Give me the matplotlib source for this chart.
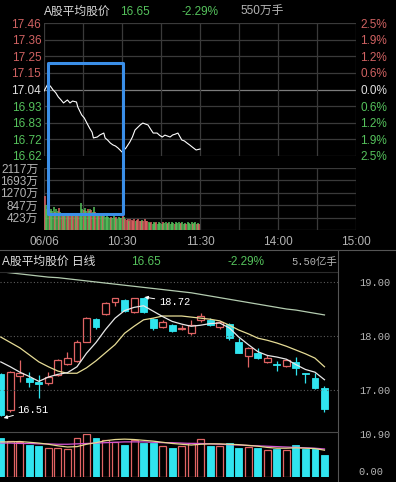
import numpy as np
import matplotlib
matplotlib.use('Agg')
import matplotlib.pyplot as plt
from matplotlib.patches import Rectangle
from matplotlib.lines import Line2D

plt.rcParams['font.family'] = ['Liberation Sans', 'Noto Sans CJK SC']
MONO = ['Liberation Mono', 'Noto Sans CJK SC']

# ---------- intraday data (分时)
price_labels_l = ['17.46', '17.36', '17.25', '17.15', '17.04', '16.93', '16.83', '16.72', '16.62']
price_labels_r = ['2.5%', '1.9%', '1.2%', '0.6%', '0.0%', '0.6%', '1.2%', '1.9%', '2.5%']
vol_labels = ['2117万', '1693万', '1270万', '847万', '423万']
time_labels = ['06/06', '10:30', '11:30', '14:00', '15:00']

line_min = [0, 3, 5, 7, 9, 11, 13, 15, 18, 20, 22, 25, 26, 29, 31, 33, 35, 37, 38, 41, 43,
            46, 47, 49, 51, 53, 55, 57, 60, 63, 66, 68, 70, 72, 74, 76, 78, 80, 82, 84,
            87, 89, 91, 93, 95, 97, 99, 101, 103, 106, 108, 110, 112, 114, 117, 120]
line_px = [17.03, 17.075, 17.06, 17.037, 17.02, 16.993, 16.975, 16.955, 16.974, 16.955,
           16.967, 16.961, 16.929, 16.879, 16.86, 16.828, 16.797, 16.77, 16.734, 16.740,
           16.753, 16.765, 16.734, 16.72, 16.702, 16.69, 16.683, 16.670, 16.645, 16.670,
           16.708, 16.74, 16.784, 16.80, 16.816, 16.828, 16.822, 16.816, 16.79, 16.765,
           16.765, 16.75, 16.740, 16.752, 16.746, 16.74, 16.753, 16.758, 16.765, 16.721,
           16.715, 16.702, 16.69, 16.677, 16.658, 16.664]

tick_vol = [1150,
            850, 700, 780, 660, 720, 640, 800, 620, 700, 660, 740, 600,
            520, 540, 500, 560, 500, 520, 540, 480, 520, 500, 540, 480, 500, 520, 480,
            930, 720, 680, 760, 660, 700, 640, 720, 680, 620, 800, 600, 560,
            520, 500, 540, 480, 520, 500, 460, 520,
            440, 400, 460, 420, 480, 400, 440, 380, 460, 420, 400, 480, 440,
            360, 340, 380, 320, 360, 340, 300, 360, 320, 340, 360, 320, 300, 340, 320, 360, 300, 320,
            260, 240, 280, 220, 260, 240, 280, 200, 260, 240, 220, 280, 240, 260, 200, 240, 280, 220,
            260, 240, 200, 260, 240, 280, 220, 240, 260, 200, 240, 220, 260, 240, 200, 260, 220, 240,
            280, 220, 240, 200]
tick_side = ('r' + 'gggrgggrggrg' + 'rgrgrgrrgrgrgrg' + 'ggrggrggrggrg' + 'grggrggg'
             + 'ggrgggrggggrg' + 'rrrgrrrrgrrrrgrrrr'
             + 'ggrgggrggggrgggrggggrggggrgggrggggrggrgr')

# ---------- daily data (日线)
k_open = [17.30, 16.63, 17.26, 17.22, 17.15, 17.13, 17.28, 17.48, 17.54, 17.89,
          18.31, 18.41, 18.63, 18.67, 18.45, 18.70, 18.31, 18.16, 18.20, 18.13,
          18.06, 18.30, 18.30, 18.17, 18.22, 17.89, 17.63, 17.69, 17.52, 17.47,
          17.45, 17.52, 17.31, 17.22, 17.04]
k_high = [17.32, 17.35, 17.56, 17.33, 17.28, 17.33, 17.58, 17.70, 17.92, 18.36,
          18.33, 18.63, 18.71, 18.69, 18.71, 18.72, 18.33, 18.30, 18.22, 18.20,
          18.30, 18.43, 18.33, 18.28, 18.24, 17.96, 17.80, 17.78, 17.65, 17.54,
          17.58, 17.61, 17.31, 17.31, 17.08]
k_low = [16.51, 16.60, 17.15, 17.06, 16.85, 17.10, 17.25, 17.46, 17.52, 17.88,
         18.13, 18.39, 18.56, 18.44, 18.42, 18.42, 18.12, 18.14, 18.07, 18.12,
         18.02, 18.26, 18.19, 18.13, 17.93, 17.68, 17.43, 17.57, 17.50, 17.35,
         17.43, 17.28, 17.13, 17.02, 16.60]
k_close = [16.53, 17.33, 17.32, 17.15, 17.11, 17.24, 17.55, 17.59, 17.89, 18.33,
           18.17, 18.61, 18.70, 18.46, 18.70, 18.44, 18.15, 18.26, 18.09, 18.14,
           18.20, 18.37, 18.21, 18.26, 17.96, 17.69, 17.78, 17.59, 17.59, 17.46,
           17.56, 17.41, 17.30, 17.04, 16.65]
ma5 = [17.52, 17.43, 17.33, 17.25, 17.16, 17.24, 17.29, 17.32, 17.43, 17.68,
       17.88, 18.12, 18.33, 18.47, 18.53, 18.56, 18.46, 18.36, 18.27, 18.22,
       18.18, 18.20, 18.23, 18.24, 18.15, 17.98, 17.84, 17.71, 17.64, 17.61,
       17.57, 17.47, 17.38, 17.33, 17.19]
ma10 = [17.98, 17.88, 17.78, 17.65, 17.52, 17.43, 17.35, 17.31, 17.31, 17.41,
        17.54, 17.69, 17.84, 18.05, 18.18, 18.30, 18.33, 18.37, 18.37, 18.37,
        18.35, 18.33, 18.31, 18.28, 18.20, 18.11, 18.04, 17.96, 17.92, 17.87,
        17.81, 17.74, 17.67, 17.59, 17.43]
ma60 = [19.19, 19.17, 19.15, 19.13, 19.11, 19.09, 19.08, 19.06, 19.04, 19.02,
        19.00, 18.98, 18.96, 18.94, 18.92, 18.90, 18.88, 18.86, 18.84, 18.82,
        18.80, 18.77, 18.74, 18.71, 18.68, 18.65, 18.62, 18.59, 18.56, 18.53,
        18.50, 18.48, 18.45, 18.42, 18.39]
k_vol = [9.9, 9.1, 8.9, 8.1, 7.9, 7.4, 7.4, 7.1, 9.9, 10.9,
         9.9, 9.4, 8.9, 8.1, 9.4, 8.6, 8.6, 7.9, 7.4, 7.9,
         8.6, 9.6, 7.9, 7.9, 8.6, 7.4, 7.6, 7.4, 6.8, 7.1,
         6.8, 8.1, 7.1, 7.1, 5.5]
vol_ma5 = [8.9, 8.9, 9.0, 8.8, 8.6, 8.3, 7.9, 7.6, 7.7, 8.3,
           8.7, 9.2, 9.5, 9.6, 9.5, 9.3, 9.1, 8.8, 8.5, 8.3,
           8.1, 8.3, 8.4, 8.4, 8.3, 8.2, 8.0, 7.8, 7.5, 7.3,
           7.3, 7.4, 7.3, 7.2, 6.8]
vol_ma10 = [8.6, 8.6, 8.5, 8.5, 8.4, 8.4, 8.3, 8.3, 8.4, 8.5,
            8.6, 8.7, 8.8, 8.9, 8.9, 8.9, 8.8, 8.7, 8.7, 8.6,
            8.5, 8.5, 8.4, 8.3, 8.2, 8.1, 8.0, 7.9, 7.8, 7.7,
            7.6, 7.5, 7.4, 7.3, 7.1]

UP = '#e06464'
DN = '#55c25c'
CYAN = '#30e4ef'
GRID = '#3a3a3a'
LBL = '#b4b4b4'

W, H = 396, 482
fig = plt.figure(figsize=(W / 100, H / 100), dpi=100, facecolor='black')


def box(x0, y0, x1, y1):
    # pixel box, origin top-left -> figure rect
    return [x0 / W, 1 - y1 / H, (x1 - x0) / W, (y1 - y0) / H]


def clean(ax):
    ax.set_facecolor('none')
    for s in ax.spines.values():
        s.set_visible(False)
    ax.tick_params(length=0)


# ---------- intraday price
ax1 = fig.add_axes(box(44, 23, 356, 156))
clean(ax1)
ax1.set_xlim(0, 240)
ax1.set_ylim(16.62, 17.46)
levels = np.linspace(17.46, 16.62, 9)
for i, lv in enumerate(levels):
    ax1.axhline(lv, color='#7c7c7c' if i == 4 else GRID, lw=0.9)
for m in range(0, 241, 30):
    ax1.axvline(m, color=GRID, lw=0.9)
ax1.plot(line_min, line_px, color='white', lw=0.8)
ax1.set_xticks([])
ax1.set_yticks(levels, price_labels_l)
ax1.tick_params(axis='y', labelsize=8.5, pad=2)
for i, t in enumerate(ax1.get_yticklabels()):
    t.set_color('#d06262' if i < 4 else ('#e0e0e0' if i == 4 else DN))
ax1r = ax1.twinx()
clean(ax1r)
ax1r.set_ylim(16.62, 17.46)
ax1r.set_yticks(levels, price_labels_r)
ax1r.tick_params(axis='y', labelsize=8.5, pad=3)
for i, t in enumerate(ax1r.get_yticklabels()):
    t.set_color('#d06262' if i < 4 else ('#e0e0e0' if i == 4 else DN))

# ---------- intraday volume
ax2 = fig.add_axes(box(44, 168, 356, 230))
clean(ax2)
ax2.set_xlim(0, 240)
ax2.set_ylim(0, 2117)
vlev = np.linspace(2117, 423.4, 5)
for lv in list(vlev) + [0]:
    ax2.axhline(lv, color=GRID, lw=0.9)
for m in range(0, 241, 30):
    ax2.axvline(m, color=GRID, lw=0.9)
cols = [UP if s == 'r' else DN for s in tick_side]
ax2.vlines(np.arange(len(tick_vol)) + 0.5, 0, tick_vol, colors=cols, lw=1.1)
ax2.set_yticks(vlev, vol_labels)
ax2.set_xticks([0, 60, 120, 180, 240], time_labels)
ax2.tick_params(labelsize=8.5, colors=LBL, pad=4)

# blue highlight box
fig.add_artist(Rectangle((48 / W, 1 - 214 / H), 75 / W, 151.5 / H, transform=fig.transFigure,
                         fill=False, ec='#3b8fe8', lw=2.2, joinstyle='round'))

# ---------- separators
fig.add_artist(Line2D([0, 1], [1 - 250 / H] * 2, color='#555555', lw=0.8))
fig.add_artist(Line2D([0, 338 / W], [1 - 272 / H] * 2, color='#2c2c2c', lw=0.8))
fig.add_artist(Line2D([338 / W] * 2, [0, 1 - 251 / H], color='#555555', lw=0.8))
fig.add_artist(Line2D([0, 338 / W], [1 - 432 / H] * 2, color='#4a4a4a', lw=0.8))

# ---------- headers
hy = 1 - 12 / H
fig.text(44 / W, hy, 'A股平均股价', color='#d8d8d8', fontsize=8.5, va='center')
fig.text(120 / W, hy, '16.65', color=DN, fontsize=8.5, va='center')
fig.text(181 / W, hy, '-2.29%', color=DN, fontsize=8.5, va='center')
fig.text(240 / W, hy, '550万手', color=LBL, fontsize=8.5, va='center')
hy2 = 1 - 262 / H
fig.text(2 / W, hy2, 'A股平均股价 日线', color='#e0e0e0', fontsize=8.5, va='center')
fig.text(131 / W, hy2, '16.65', color=DN, fontsize=8.5, va='center')
fig.text(227 / W, hy2, '-2.29%', color=DN, fontsize=8.5, va='center')
fig.text(291 / W, hy2, '5.50亿手', color=LBL, fontsize=7.5, va='center', family=MONO)

# ---------- daily candles
idx = np.arange(len(k_close))
xl = (-0.084, 35.42)
ax3 = fig.add_axes(box(0, 272, 338, 430))
clean(ax3)
ax3.set_xlim(*xl)
ax3.set_ylim(16.259, 19.185)
for lv in (17, 18, 19):
    ax3.axhline(lv, color='#5c5c5c', lw=0.8, ls=(0, (1, 2)))
bw = 0.72
for i, o, h, l, c in zip(idx, k_open, k_high, k_low, k_close):
    lo, hi = min(o, c), max(o, c)
    if c > o:
        ax3.vlines(i, l, lo, color=UP, lw=0.9)
        ax3.vlines(i, hi, h, color=UP, lw=0.9)
        ax3.add_patch(Rectangle((i - bw / 2, lo), bw, hi - lo, fc='black', ec=UP, lw=0.9))
    else:
        ax3.vlines(i, l, h, color=CYAN, lw=0.9)
        ax3.add_patch(Rectangle((i - bw / 2, lo), bw, max(hi - lo, 0.012), fc=CYAN, ec=CYAN, lw=0.6))
ax3.plot(idx, ma60, color='#b4ccb0', lw=0.9)
ax3.plot(idx, ma10, color='#e6dc96', lw=0.9)
ax3.plot(idx, ma5, color='#e8e8e8', lw=0.9)
ax3.annotate('18.72', xy=(15.1, 18.72), xytext=(16.6, 18.63), color='white', fontsize=7.5,
             family=MONO, va='center',
             arrowprops=dict(arrowstyle='-|>', color='white', lw=0.7, mutation_scale=5,
                             shrinkA=1, shrinkB=0))
ax3.annotate('16.51', xy=(0.3, 16.48), xytext=(1.75, 16.63), color='white', fontsize=7.5,
             family=MONO, va='center',
             arrowprops=dict(arrowstyle='-|>', color='white', lw=0.7, mutation_scale=5,
                             shrinkA=1, shrinkB=0))
ax3.set_xticks([])
ax3.yaxis.tick_right()
ax3.set_yticks([19, 18, 17], ['19.00', '18.00', '17.00'])
ax3.tick_params(axis='y', colors=LBL, pad=15, labelsize=7.5)
for t in ax3.get_yticklabels():
    t.set_family(MONO)

# ---------- daily volume
ax4 = fig.add_axes(box(0, 434, 338, 477))
clean(ax4)
ax4.set_xlim(*xl)
ax4.set_ylim(0, 10.9)
for i, o, c, v in zip(idx, k_open, k_close, k_vol):
    if c > o:
        ax4.add_patch(Rectangle((i - bw / 2, 0), bw, v, fc='black', ec=UP, lw=0.9))
    else:
        ax4.add_patch(Rectangle((i - bw / 2, 0), bw, v, fc=CYAN, ec=CYAN, lw=0.6))
ax4.plot(idx, vol_ma10, color='#d456d4', lw=0.9)
ax4.plot(idx, vol_ma5, color='#e6d890', lw=0.9)
ax4.set_xticks([])
ax4.yaxis.tick_right()
ax4.set_yticks([10.9, 0], ['10.90', '0.00'])
ax4.tick_params(axis='y', colors=LBL, pad=15, labelsize=7.5)
tl = ax4.get_yticklabels()
for t in tl:
    t.set_family(MONO)
tl[1].set_va('bottom')

fig.savefig('out.png', dpi=100, facecolor='black')
